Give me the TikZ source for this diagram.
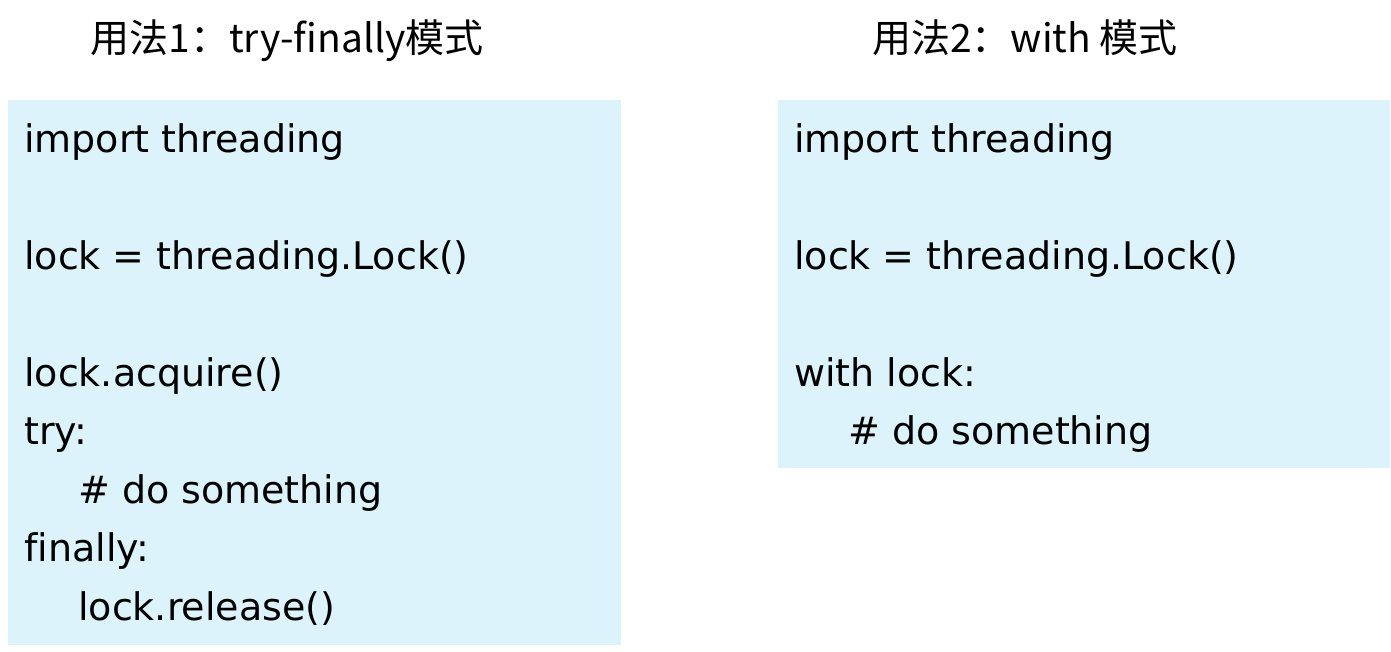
\documentclass[tikz,border=0pt]{standalone}
\usepackage{fontspec}
\setmainfont{DejaVu Sans}[Ligatures=NoCommon]
\newfontfamily\cjk{Noto Sans CJK SC}[Ligatures=NoCommon]
\definecolor{codebg}{RGB}{221,243,251}
\tikzset{
  codebox/.style={fill=codebg, draw=none},
  codeline/.style={anchor=base west, inner sep=0pt, font=\fontsize{38}{45}\selectfont, text=black},
  titletext/.style={anchor=base, inner sep=0pt, font=\cjk\fontsize{39}{46}\selectfont, text=black}
}
\begin{document}
\begin{tikzpicture}[x=1pt,y=-1pt]
\useasboundingbox (0,0) rectangle (1391,651);
\fill[white] (0,0) rectangle (1391,651);
% boxes
\path[codebox] (8,100) rectangle (621,645) node[pos=0, anchor=north west, inner sep=0pt] (box1) {};
\path[codebox] (778,100) rectangle (1390,468) node[pos=0, anchor=north west, inner sep=0pt] (box2) {};
% titles
\node[titletext] (t1) at (287,52) {用法1：try-finally模式};
\node[titletext] (t2) at (1025,52) {用法2：with 模式};
% left code
\node[codeline] (l1) at (24,152) {import threading};
\node[codeline] (l2) at (24,269) {lock = threading.Lock()};
\node[codeline] (l3) at (24,386) {lock.acquire()};
\node[codeline] (l4) at (24,444.5) {try:};
\node[codeline] (l5) at (78,503) {\# do something};
\node[codeline] (l6) at (24,561.5) {finally:};
\node[codeline] (l7) at (78,620) {lock.release()};
% right code
\node[codeline] (r1) at (794,152) {import threading};
\node[codeline] (r2) at (794,269) {lock = threading.Lock()};
\node[codeline] (r3) at (794,386) {with lock:};
\node[codeline] (r4) at (848,444.5) {\# do something};
\end{tikzpicture}
\end{document}
